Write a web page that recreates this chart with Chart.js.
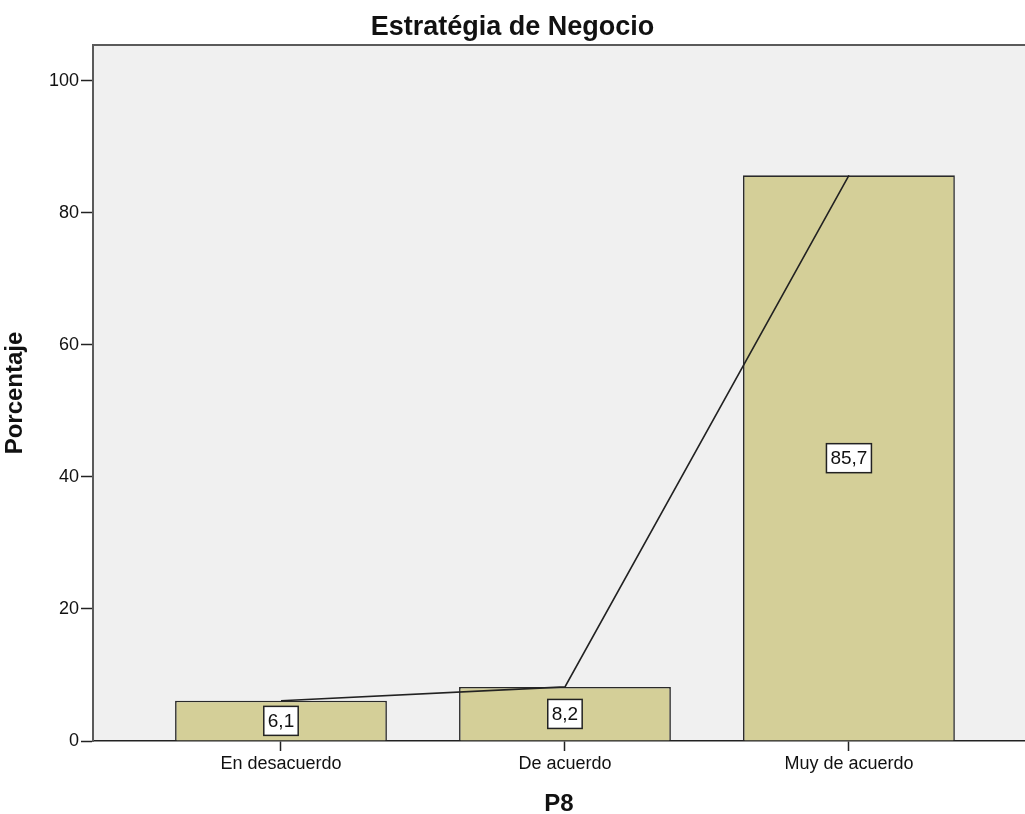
<!DOCTYPE html>
<html>
<head>
<meta charset="utf-8">
<script src="https://cdn.jsdelivr.net/npm/chart.js@4"></script>
<style>
  body { margin: 0; background: #fff; }
</style>
</head>
<body>
<canvas id="bar-chart" width="1025" height="814"></canvas>
<script>
const categories = ["En desacuerdo", "De acuerdo", "Muy de acuerdo"];
const percentages = [6.1, 8.2, 85.7];
const yTicks = [0, 20, 40, 60, 80, 100];

const FONT = "'Liberation Sans', Arial, sans-serif";

const points = categories.map((c, i) => ({ x: i, y: percentages[i] }));

// fondo gris del area del grafico y borde superior/izquierdo
const plotBackground = {
  id: "plotBackground",
  beforeDraw(chart) {
    const { ctx, chartArea: a } = chart;
    ctx.save();
    ctx.fillStyle = "#f0f0f0";
    ctx.fillRect(a.left, a.top, a.right - a.left, a.bottom - a.top);
    ctx.strokeStyle = "#5a5a5a";
    ctx.lineWidth = 2;
    ctx.beginPath();
    ctx.moveTo(a.left, a.bottom);
    ctx.lineTo(a.left, a.top);
    ctx.lineTo(a.right, a.top);
    ctx.stroke();
    ctx.restore();
  },
};

// etiquetas con el valor en el centro de cada barra
const valueLabels = {
  id: "valueLabels",
  afterDatasetsDraw(chart) {
    const { ctx, scales } = chart;
    ctx.save();
    ctx.font = "19px " + FONT;
    ctx.textAlign = "center";
    ctx.textBaseline = "middle";
    percentages.forEach((v, i) => {
      const x = scales.x.getPixelForValue(i);
      const y = scales.y.getPixelForValue(v / 2);
      const text = v.toFixed(1).replace(".", ",");
      const w = ctx.measureText(text).width + 8;
      const h = 29;
      ctx.fillStyle = "#fff";
      ctx.fillRect(x - w / 2, y - h / 2, w, h);
      ctx.strokeStyle = "#222";
      ctx.lineWidth = 1.5;
      ctx.strokeRect(x - w / 2, y - h / 2, w, h);
      ctx.fillStyle = "#111";
      ctx.fillText(text, x, y + 1);
    });
    ctx.restore();
  },
};

new Chart(document.getElementById("bar-chart"), {
  type: "bar",
  data: {
    datasets: [
      {
        type: "line",
        data: points,
        borderColor: "#222",
        borderWidth: 1.6,
        pointRadius: 0,
        fill: false,
        order: 0,
      },
      {
        type: "bar",
        data: points,
        backgroundColor: "#d4cf98",
        borderColor: "#2a2a2a",
        borderWidth: 1.6,
        barPercentage: 0.746,
        categoryPercentage: 1,
        order: 1,
      },
    ],
  },
  options: {
    responsive: false,
    devicePixelRatio: 1,
    animation: false,
    layout: { padding: 0 },
    plugins: {
      legend: { display: false },
      tooltip: { enabled: false },
      title: {
        display: true,
        text: "Estratégia de Negocio",
        color: "#111",
        font: { family: FONT, size: 27, weight: "bold", lineHeight: 1.2 },
        padding: { top: 11, bottom: 1.6 },
      },
    },
    scales: {
      x: {
        type: "linear",
        offset: false,
        min: -0.662,
        max: 2.62,
        afterBuildTicks: (scale) => {
          scale.ticks = categories.map((c, i) => ({ value: i }));
        },
        afterFit: (scale) => {
          scale.height = 73;
        },
        ticks: {
          callback: (value) => categories[value],
          color: "#111",
          padding: 2,
          maxRotation: 0,
          font: { family: FONT, size: 18 },
        },
        grid: {
          offset: false,
          drawOnChartArea: false,
          drawTicks: true,
          tickLength: 10,
          tickWidth: 1.5,
          tickColor: "#222",
        },
        border: { display: true, color: "#222", width: 1.5 },
        title: {
          display: true,
          text: "P8",
          color: "#111",
          font: { family: FONT, size: 24, weight: "bold", lineHeight: 0.8 },
          padding: 0,
        },
      },
      y: {
        min: 0,
        max: 105.45,
        afterBuildTicks: (scale) => {
          scale.ticks = yTicks.map((v) => ({ value: v }));
        },
        afterFit: (scale) => {
          scale.width = 93;
        },
        ticks: {
          color: "#111",
          padding: 2,
          font: { family: FONT, size: 18 },
        },
        grid: {
          drawOnChartArea: false,
          drawTicks: true,
          tickLength: 12,
          tickWidth: 1.5,
          tickColor: "#222",
        },
        border: { display: true, color: "#5a5a5a", width: 2 },
        title: {
          display: true,
          text: "Porcentaje",
          color: "#111",
          font: { family: FONT, size: 24, weight: "bold", lineHeight: 1 },
          padding: { top: 3, bottom: 0 },
        },
      },
    },
  },
  plugins: [plotBackground, valueLabels],
});
</script>
</body>
</html>
